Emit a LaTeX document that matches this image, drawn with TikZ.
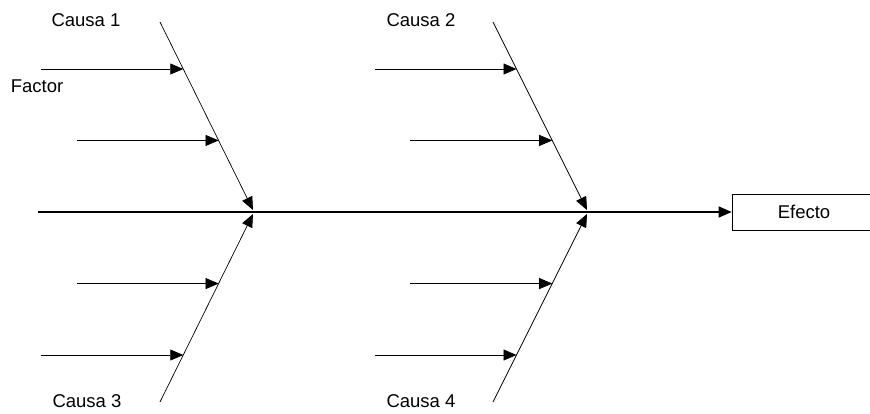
\documentclass[tikz,border=0pt]{standalone}
\usepackage{fontspec}
\setmainfont{Liberation Sans}
\usetikzlibrary{arrows.meta, positioning, calc}

\begin{document}
\begin{tikzpicture}[x=1pt, y=-1pt,
    flecha/.style={-{Triangle[length=13pt,width=11pt]}},
    espina/.style={line width=1.3pt, flecha},
    hueso/.style={line width=0.7pt, flecha},
    factor/.style={line width=0.6pt, flecha},
    texto/.style={font=\fontsize{18.5}{22}\selectfont, inner sep=0pt}]

    \useasboundingbox (0,0) rectangle (870,413);

    % efecto y espina central
    \node[draw, line width=0.6pt, minimum width=144pt, minimum height=36pt, texto] (efecto) at (804,212) {Efecto};
    \coordinate (inicio) at (38,212);
    \draw[espina] (inicio) -- (efecto.west);

    % extremos de los huesos
    \coordinate (c1a) at (160,22);
    \coordinate (c1b) at (253,210);
    \coordinate (c2a) at (493,22);
    \coordinate (c2b) at (587,210);
    \coordinate (c3a) at (160,402);
    \coordinate (c3b) at (253,214);
    \coordinate (c4a) at (493,402);
    \coordinate (c4b) at (587,214);

    % huesos
    \draw[hueso] (c1a) -- (c1b);
    \draw[hueso] (c2a) -- (c2b);
    \draw[hueso] (c3a) -- (c3b);
    \draw[hueso] (c4a) -- (c4b);

    % factores
    \foreach \a/\b in {c1a/c1b, c2a/c2b, c3a/c3b, c4a/c4b} {
        \foreach \t in {0.25, 0.63} {
            \coordinate (f) at ($(\a)!\t!(\b)$);
            \draw[factor] ($(f)+(-142,0)$) -- (f);
        }
    }

    % etiquetas
    \node[texto] (causa1) at (86,20) {Causa 1};
    \node[texto] (causa2) at (421,20) {Causa 2};
    \node[texto] (causa3) at (87,401) {Causa 3};
    \node[texto] (causa4) at (421,401) {Causa 4};
    \node[texto] (factor) at (37,86) {Factor};
\end{tikzpicture}
\end{document}
